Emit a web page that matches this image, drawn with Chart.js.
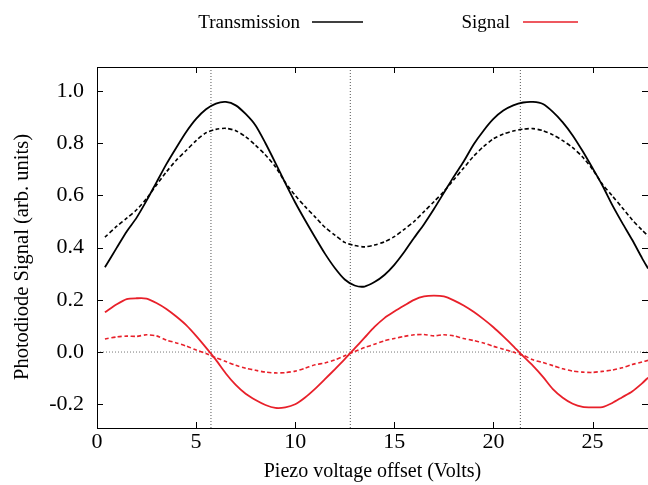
<!DOCTYPE html>
<html>
<head>
<meta charset="utf-8">
<script src="https://cdn.jsdelivr.net/npm/chart.js@4/dist/chart.umd.min.js"></script>
<style>
  html, body { margin: 0; padding: 0; background: #fff; }
  #wrap { width: 648px; height: 485px; }
</style>
</head>
<body>
<div id="wrap"><canvas id="chart"></canvas></div>
<script>
// piezo voltage offset (Volts) where the traces were read
const piezoVolts = [0.4, 1, 1.5, 2, 2.5, 3, 3.5, 4, 4.5, 5, 5.5, 6, 6.5, 7, 7.5, 8, 8.5, 9, 9.5, 10,
  10.5, 11, 11.5, 12, 12.5, 13, 13.5, 14, 14.5, 15, 15.5, 16, 16.5, 17, 17.5, 18, 18.5, 19, 19.5, 20,
  20.5, 21, 21.5, 22, 22.5, 23, 23.5, 24, 24.5, 25, 25.5, 26, 26.5, 27, 27.5, 27.8];

const transmission = [0.325, 0.40, 0.462, 0.515, 0.58, 0.65, 0.72, 0.783, 0.843, 0.893, 0.93, 0.952, 0.958, 0.945, 0.912, 0.868, 0.80, 0.725, 0.647, 0.573,
  0.505, 0.44, 0.377, 0.322, 0.278, 0.255, 0.251, 0.268, 0.295, 0.334, 0.383, 0.438, 0.49, 0.548, 0.61, 0.672, 0.73, 0.795, 0.848, 0.893,
  0.925, 0.945, 0.956, 0.958, 0.95, 0.92, 0.88, 0.83, 0.77, 0.705, 0.638, 0.563, 0.495, 0.43, 0.36, 0.32];

const transmissionFit = [0.44, 0.482, 0.513, 0.545, 0.588, 0.64, 0.69, 0.735, 0.772, 0.81, 0.84, 0.853, 0.857, 0.848, 0.825, 0.792, 0.755, 0.71, 0.65, 0.60,
  0.557, 0.518, 0.478, 0.448, 0.42, 0.408, 0.403, 0.41, 0.422, 0.442, 0.47, 0.50, 0.538, 0.576, 0.615, 0.66, 0.705, 0.75, 0.787, 0.817,
  0.835, 0.847, 0.854, 0.856, 0.848, 0.832, 0.81, 0.783, 0.747, 0.70, 0.643, 0.598, 0.553, 0.507, 0.467, 0.445];

const signal = [0.152, 0.183, 0.203, 0.206, 0.205, 0.188, 0.165, 0.136, 0.103, 0.062, 0.017, -0.03, -0.082, -0.126, -0.16, -0.184, -0.203, -0.214, -0.212, -0.20,
  -0.174, -0.141, -0.104, -0.066, -0.027, 0.014, 0.055, 0.096, 0.13, 0.155, 0.178, 0.20, 0.213, 0.216, 0.213, 0.198, 0.178, 0.154, 0.126, 0.095,
  0.06, 0.023, -0.016, -0.053, -0.095, -0.142, -0.175, -0.198, -0.21, -0.212, -0.211, -0.195, -0.173, -0.151, -0.12, -0.098];

const signalFit = [0.05, 0.058, 0.061, 0.06, 0.066, 0.062, 0.046, 0.035, 0.023, 0.008, -0.006, -0.022, -0.036, -0.051, -0.062, -0.07, -0.077, -0.08, -0.079, -0.073,
  -0.062, -0.049, -0.042, -0.03, -0.014, 0.002, 0.017, 0.03, 0.043, 0.052, 0.06, 0.066, 0.067, 0.062, 0.066, 0.062, 0.052, 0.044, 0.035, 0.022,
  0.011, 0.0, -0.012, -0.03, -0.04, -0.052, -0.064, -0.073, -0.077, -0.078, -0.074, -0.069, -0.06, -0.048, -0.038, -0.032];

// dotted guide lines
const markerVolts = [5.75, 12.78, 21.36];
const xTicks = [0, 5, 10, 15, 20, 25];
const yTicks = [-0.2, 0.0, 0.2, 0.4, 0.6, 0.8, 1.0];

const X_MIN = 0, X_MAX = 27.8, Y_MIN = -0.291, Y_MAX = 1.092;
const RED = '#e8202a';
const FONT = 'Liberation Serif';

const toPoints = ys => piezoVolts.map((x, i) => ({ x: x, y: ys[i] }));

const guideSets = markerVolts.map(v => ({
  data: [{ x: v, y: Y_MIN }, { x: v, y: Y_MAX }],
  borderColor: '#555', borderWidth: 1, borderDash: [1, 2], pointRadius: 0, tension: 0
}));
guideSets.push({
  data: [{ x: X_MIN, y: 0 }, { x: X_MAX, y: 0 }],
  borderColor: '#777', borderWidth: 1, borderDash: [1, 2], pointRadius: 0, tension: 0
});

// gnuplot style frame, inward ticks, y label and key
const frame = {
  id: 'frame',
  afterDraw(chart) {
    const { ctx, chartArea: a, scales } = chart;
    ctx.save();
    ctx.strokeStyle = '#000';
    ctx.lineWidth = 1;
    ctx.strokeRect(a.left + 0.5, a.top + 0.5, a.right - a.left, a.bottom - a.top);
    ctx.beginPath();
    xTicks.forEach(v => {
      const px = Math.round(scales.x.getPixelForValue(v)) + 0.5;
      ctx.moveTo(px, a.bottom); ctx.lineTo(px, a.bottom - 6);
      ctx.moveTo(px, a.top); ctx.lineTo(px, a.top + 6);
    });
    yTicks.forEach(v => {
      const py = Math.round(scales.y.getPixelForValue(v)) + 0.5;
      ctx.moveTo(a.left, py); ctx.lineTo(a.left + 6, py);
      ctx.moveTo(a.right, py); ctx.lineTo(a.right - 6, py);
    });
    ctx.stroke();

    ctx.fillStyle = '#000';
    ctx.save();
    ctx.translate(23, 257);
    ctx.rotate(-Math.PI / 2);
    ctx.font = '20.5px "' + FONT + '"';
    ctx.textAlign = 'center';
    ctx.textBaseline = 'middle';
    ctx.fillText('Photodiode Signal (arb. units)', 0, 0);
    ctx.restore();

    ctx.font = '19px "' + FONT + '"';
    ctx.textAlign = 'right';
    ctx.textBaseline = 'alphabetic';
    ctx.fillText('Transmission', 300, 28);
    ctx.fillText('Signal', 510, 28);
    ctx.lineWidth = 1.6;
    ctx.beginPath();
    ctx.moveTo(312, 22); ctx.lineTo(363, 22);
    ctx.stroke();
    ctx.strokeStyle = RED;
    ctx.beginPath();
    ctx.moveTo(523, 22); ctx.lineTo(578, 22);
    ctx.stroke();
    ctx.restore();
  }
};

new Chart(document.getElementById('chart'), {
  type: 'line',
  data: {
    datasets: [
      { label: 'Transmission', data: toPoints(transmission), borderColor: '#000', borderWidth: 1.8 },
      { label: 'Transmission fit', data: toPoints(transmissionFit), borderColor: '#000', borderWidth: 1.6, borderDash: [4, 2.5] },
      { label: 'Signal', data: toPoints(signal), borderColor: RED, borderWidth: 1.8 },
      { label: 'Signal fit', data: toPoints(signalFit), borderColor: RED, borderWidth: 1.6, borderDash: [4, 2.5] }
    ].map(d => Object.assign({ pointRadius: 0, tension: 0.25, fill: false }, d)).concat(guideSets)
  },
  options: {
    responsive: true,
    maintainAspectRatio: false,
    animation: false,
    layout: { padding: { top: 67, right: 0, bottom: 0, left: 0 } },
    plugins: { legend: { display: false }, tooltip: { enabled: false } },
    scales: {
      x: {
        type: 'linear', min: X_MIN, max: X_MAX,
        afterBuildTicks: s => { s.ticks = xTicks.map(v => ({ value: v })); },
        afterFit: s => { s.height = 57; },
        grid: { display: false, drawTicks: false },
        border: { display: false },
        ticks: { color: '#000', padding: 1, font: { family: FONT, size: 22 }, maxRotation: 0 },
        title: { display: true, text: 'Piezo voltage offset (Volts)', color: '#000',
          font: { family: FONT, size: 20 }, padding: { top: 0, bottom: 1 } }
      },
      y: {
        type: 'linear', min: Y_MIN, max: Y_MAX,
        afterBuildTicks: s => { s.ticks = yTicks.map(v => ({ value: v })); },
        afterFit: s => { s.width = 97; },
        grid: { display: false, drawTicks: false },
        border: { display: false },
        ticks: { color: '#000', padding: 13, font: { family: FONT, size: 22 }, callback: v => v.toFixed(1) },
        title: { display: false }
      }
    }
  },
  plugins: [frame]
});
</script>
</body>
</html>
